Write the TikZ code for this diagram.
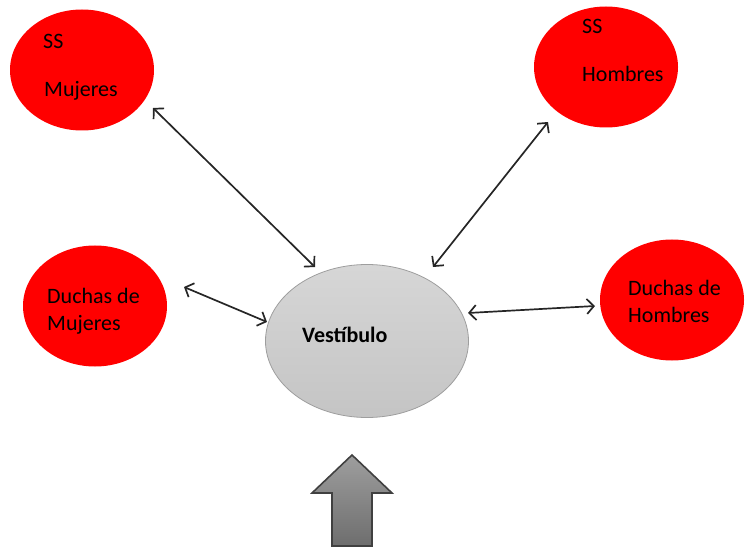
\documentclass[tikz,border=0pt]{standalone}
\usepackage{fontspec}
\setmainfont{Carlito}
\usetikzlibrary{shapes.geometric,arrows.meta}
\definecolor{redfill}{HTML}{FF0000}
\begin{document}
\begin{tikzpicture}[x=1pt,y=-1pt,
  room/.style={ellipse,fill=redfill,draw=none,inner sep=0pt,outer sep=0pt,minimum width=144pt,minimum height=121pt},
  lbl/.style={anchor=base west,inner sep=0pt,font=\fontsize{22}{26}\selectfont},
  link/.style={draw=black!85,line width=1.7pt,{Straight Barb[length=7pt,width=15pt]}-{Straight Barb[length=7pt,width=15pt]}}
]
\useasboundingbox (0,0) rectangle (747,548);
% rooms
\node[room] (smm) at (82,70) {};
\node[room] (ssh) at (606,67) {};
\node[room] (dm) at (95,306) {};
\node[room] (dh) at (672,300) {};
\node[ellipse,inner sep=0pt,minimum width=203pt,minimum height=153pt,draw=black!38,line width=0.8pt,top color=black!16,bottom color=black!23] (vest) at (367,341) {};
% labels
\node[lbl] (t1) at (43,49) {SS};
\node[lbl] (t2) at (44,97) {Mujeres};
\node[lbl] (t3) at (582,34) {SS};
\node[lbl] (t4) at (582,82) {Hombres};
\node[lbl] (t5) at (47,303) {Duchas de};
\node[lbl] (t6) at (47,330) {Mujeres};
\node[lbl] (t7) at (628,295) {Duchas de};
\node[lbl] (t8) at (628,322) {Hombres};
\node[lbl,font=\fontsize{22}{26}\selectfont\bfseries] (t9) at (302,342) {Vestíbulo};
% connectors
\draw[link] ([shift={(71,38)}]smm.center) -- ([shift={(-52,-74)}]vest.center);
\draw[link] ([shift={(-58,55)}]ssh.center) -- ([shift={(66,-74)}]vest.center);
\draw[link] ([shift={(89,-19)}]dm.center) -- ([shift={(-100,-19)}]vest.center);
\draw[link] ([shift={(101,-28)}]vest.center) -- ([shift={(-77,6)}]dh.center);
% entrance arrow
\coordinate (ent) at (352,546);
\filldraw[draw=black!75,line width=1.6pt,line join=miter,top color=black!38,bottom color=black!57]
  ([shift={(-20,0)}]ent) -- ([shift={(-20,-53)}]ent) -- ([shift={(-40,-53)}]ent) -- ([shift={(0,-91)}]ent)
  -- ([shift={(40,-53)}]ent) -- ([shift={(20,-53)}]ent) -- ([shift={(20,0)}]ent) -- cycle;
\end{tikzpicture}
\end{document}
